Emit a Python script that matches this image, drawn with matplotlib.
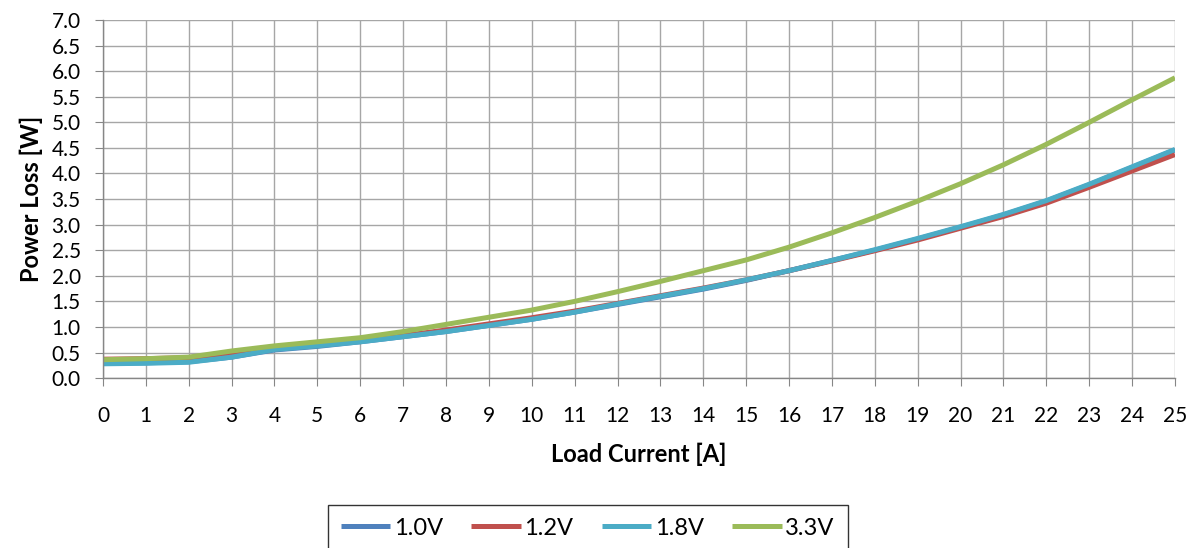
import matplotlib
matplotlib.use("Agg")
import matplotlib.pyplot as plt

# Load current [A]
corrente = list(range(0, 26))

# Power loss [W] per output voltage
perda_1v0 = [0.29, 0.30, 0.32, 0.41, 0.55, 0.62, 0.71, 0.81, 0.91, 1.03,
             1.15, 1.29, 1.44, 1.59, 1.74, 1.91, 2.10, 2.30, 2.50, 2.72,
             2.95, 3.19, 3.46, 3.78, 4.12, 4.46]
perda_1v2 = [0.37, 0.38, 0.40, 0.47, 0.57, 0.64, 0.73, 0.83, 0.94, 1.06,
             1.18, 1.31, 1.46, 1.61, 1.76, 1.92, 2.10, 2.29, 2.49, 2.70,
             2.93, 3.16, 3.42, 3.73, 4.05, 4.37]
perda_1v8 = [0.28, 0.29, 0.31, 0.41, 0.56, 0.63, 0.71, 0.81, 0.91, 1.03,
             1.15, 1.29, 1.45, 1.60, 1.75, 1.92, 2.10, 2.30, 2.51, 2.73,
             2.96, 3.20, 3.47, 3.79, 4.13, 4.47]
perda_3v3 = [0.36, 0.38, 0.41, 0.53, 0.63, 0.71, 0.79, 0.91, 1.05, 1.19,
             1.33, 1.50, 1.69, 1.89, 2.10, 2.31, 2.56, 2.84, 3.14, 3.46,
             3.80, 4.17, 4.57, 5.00, 5.44, 5.87]

series = [
    ("1.0V", perda_1v0, "#4F81BD"),
    ("1.2V", perda_1v2, "#C0504D"),
    ("1.8V", perda_1v8, "#4BACC6"),
    ("3.3V", perda_3v3, "#9BBB59"),
]

plt.rcParams["font.family"] = ["Lato", "DejaVu Sans"]

fig = plt.figure(figsize=(11.97, 5.48), dpi=100)
ax = fig.add_axes([0.086, 0.310, 0.8956, 0.6535])

for nome, valores, cor in series:
    ax.plot(corrente, valores, color=cor, linewidth=3.6, label=nome,
            solid_capstyle="butt")

ax.set_xlim(0, 25)
ax.set_ylim(0, 7.0)
ax.set_xticks(range(0, 26))
ax.set_yticks([i * 0.5 for i in range(15)])
ax.set_yticklabels([f"{i * 0.5:.1f}" for i in range(15)])

ax.grid(True, color="#A6A6A6", linewidth=1.0)
ax.set_axisbelow(True)
for lado in ["top", "right"]:
    ax.spines[lado].set_visible(False)
for lado in ["left", "bottom"]:
    ax.spines[lado].set_color("#868686")
    ax.spines[lado].set_linewidth(1.0)

ax.tick_params(axis="x", length=6, color="#868686", labelsize=15, pad=14)
ax.tick_params(axis="y", length=6, color="#868686", labelsize=15, pad=10)

ax.set_xlabel("Load Current [A]", fontsize=17, fontweight="bold", labelpad=12)
ax.set_ylabel("Power Loss [W]", fontsize=17, fontweight="bold", labelpad=6)

# a caixa da legenda fica cortada na borda inferior, como no original
leg = fig.legend(loc="upper center", bbox_to_anchor=(0.491, 0.079), ncol=4,
                 fontsize=17, frameon=True, fancybox=False, edgecolor="black",
                 handlelength=2.1, columnspacing=1.2, handletextpad=0.15,
                 borderpad=0.55, borderaxespad=0)
leg.get_frame().set_linewidth(1.0)

fig.savefig("out.png", dpi=100)
